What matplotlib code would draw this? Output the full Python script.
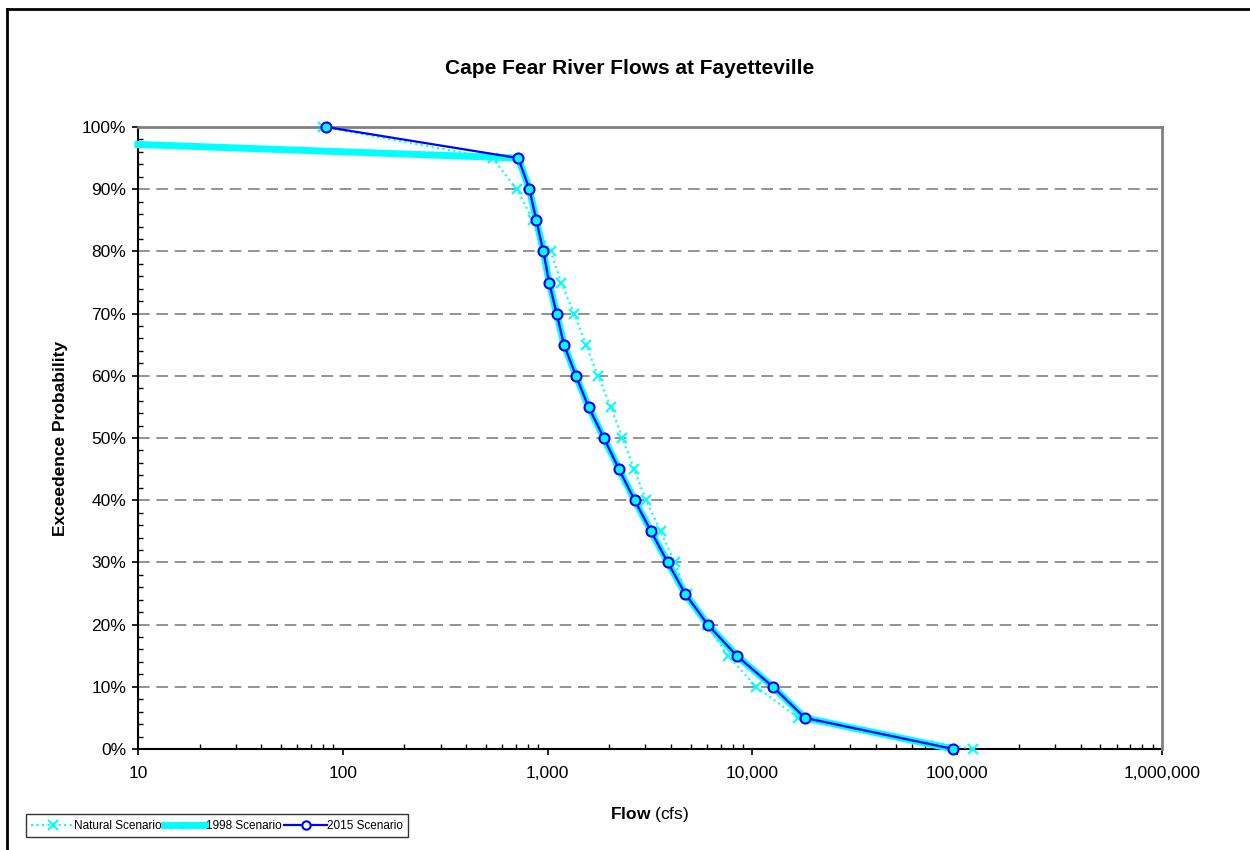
import matplotlib
matplotlib.use('Agg')
import matplotlib.pyplot as plt
from matplotlib.lines import Line2D
from matplotlib.ticker import FuncFormatter, LogLocator, MultipleLocator

plt.rcParams['font.family'] = ['Liberation Sans', 'DejaVu Sans']
plt.rcParams['mathtext.fontset'] = 'custom'
plt.rcParams['mathtext.rm'] = 'Liberation Sans'
plt.rcParams['mathtext.bf'] = 'Liberation Sans:bold'

# exceedence probability (%)
prob = [100, 95, 90, 85, 80, 75, 70, 65, 60, 55, 50,
        45, 40, 35, 30, 25, 20, 15, 10, 5, 0]

# flows (cfs)
flow_natural = [80, 539, 706, 851, 1035, 1165, 1346, 1541, 1759, 2036, 2318,
                2646, 3021, 3566, 4175, 4770, 5970, 7590, 10450, 16750, 118800]
flow_2015 = [83, 719, 815, 881, 953, 1018, 1107, 1202, 1375, 1585, 1883,
             2230, 2660, 3200, 3860, 4690, 6050, 8380, 12600, 18050, 95700]
# 1998 scenario starts off the left edge of the axis
prob_1998 = [97.2, 95, 90, 85, 80, 75, 70, 65, 60, 55, 50,
             45, 40, 35, 30, 25, 20, 15, 10, 5, 0]
flow_1998 = [10, 719, 815, 881, 953, 1018, 1107, 1202, 1375, 1585, 1883,
             2230, 2660, 3200, 3860, 4690, 6050, 8380, 12600, 18050, 95700]

W, H = 1250, 850
fig = plt.figure(figsize=(W/100, H/100), dpi=100)
ax = fig.add_axes([138/W, 1-749/H, (1162-138)/W, (749-127)/H])

cyan = '#00FFFF'
blue = '#0000FF'

ax.plot(flow_natural, prob, color=cyan, ls=':', lw=1.5, marker='x',
        ms=7, mew=1.5, clip_on=False, zorder=3, label='Natural Scenario')
ax.plot(flow_1998, prob_1998, color=cyan, lw=5, marker='s', ms=5,
        clip_on=False, zorder=4, label='1998 Scenario')
ax.plot(flow_2015, prob, color=blue, lw=1.6, marker='o', ms=7.2,
        mfc=cyan, mec=blue, mew=1.5, clip_on=False, zorder=5, label='2015 Scenario')

ax.set_xscale('log')
ax.set_xlim(10, 1e6)
ax.set_ylim(0, 100)

ax.xaxis.set_major_locator(LogLocator(base=10))
ax.xaxis.set_minor_locator(LogLocator(base=10, subs=range(2, 10)))
ax.xaxis.set_major_formatter(FuncFormatter(lambda v, p: '{:,.0f}'.format(v)))
ax.yaxis.set_major_locator(MultipleLocator(10))
ax.yaxis.set_minor_locator(MultipleLocator(2))
ax.yaxis.set_major_formatter(FuncFormatter(lambda v, p: '%d%%' % v))

ax.tick_params(which='major', direction='out', length=4.5, width=1.2,
               labelsize=12.5, pad=4, color='black')
ax.tick_params(which='minor', direction='in', length=3.6, width=1.0, color='black')
ax.tick_params(axis='x', which='major', pad=8)

for v in range(10, 100, 10):
    ax.axhline(v, color='#808080', lw=1.2, ls=(0, (7, 4)), zorder=1)

ax.spines['top'].set_color('#808080')
ax.spines['right'].set_color('#808080')
ax.spines['top'].set_linewidth(2)
ax.spines['right'].set_linewidth(2)
ax.spines['left'].set_linewidth(1.5)
ax.spines['bottom'].set_linewidth(1.5)
ax.spines['bottom'].set_zorder(2)

fig.text(630/W, 1-69/H, 'Cape Fear River Flows at Fayetteville',
         ha='center', va='center', fontsize=15, fontweight='bold')
fig.text(60/W, 1-438/H, 'Exceedence Probability', rotation=90,
         ha='center', va='center', fontsize=12.5, fontweight='bold')
fig.text(650/W, 1-815/H, r'$\bf{Flow}$ (cfs)', ha='center', va='center', fontsize=12.5)

# outer chart frame
fig.add_artist(Line2D([7/W, 7/W], [0, 1-9/H], color='black', lw=2, transform=fig.transFigure))
fig.add_artist(Line2D([7/W, 1], [1-9/H, 1-9/H], color='black', lw=2, transform=fig.transFigure))

handles = [
    Line2D([], [], color=cyan, ls=':', lw=1.5, marker='x', ms=7, mew=1.5),
    Line2D([], [], color=cyan, lw=5, marker='s', ms=5),
    Line2D([], [], color=blue, lw=1.6, marker='o', ms=6, mfc='white', mec=blue, mew=1.5),
]
labels = ['Natural Scenario', '1998 Scenario', '2015 Scenario']
leg = fig.legend(handles, labels, loc='lower left', bbox_to_anchor=(26/W, 1-837/H),
                 ncol=3, fontsize=8.5, frameon=True, fancybox=False, edgecolor='black',
                 borderpad=0.45, handlelength=3.6, handletextpad=0.0, columnspacing=0.2,
                 borderaxespad=0)
leg.get_frame().set_linewidth(1.0)

fig.savefig('out.png', dpi=100)
